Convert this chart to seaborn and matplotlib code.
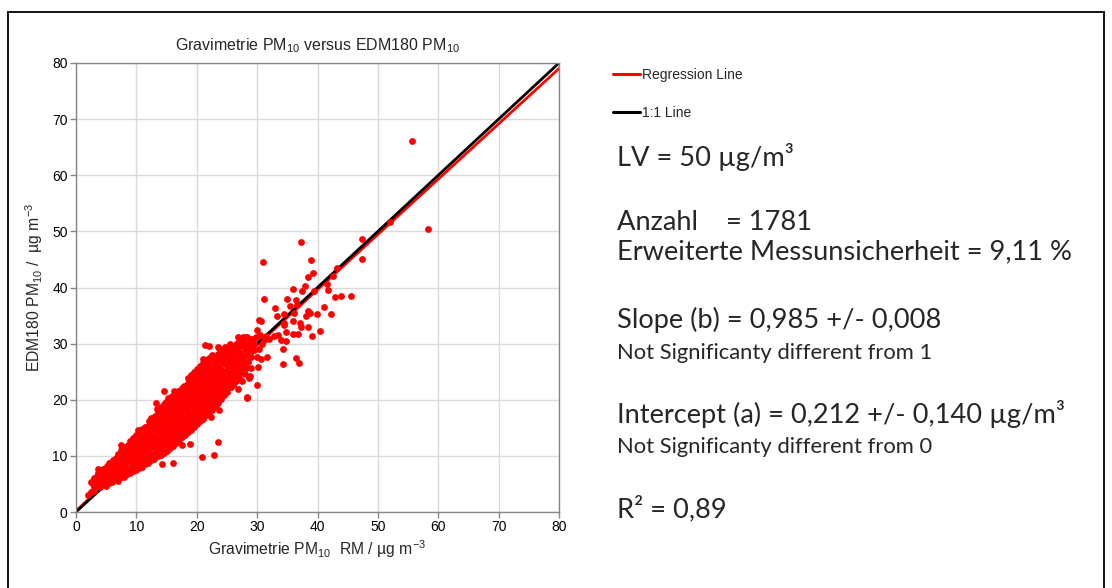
import matplotlib
matplotlib.use("Agg")
import matplotlib.pyplot as plt
import seaborn as sns
import pandas as pd
from matplotlib.patches import Rectangle
from matplotlib.lines import Line2D

# ---------------- data ----------------
pairs_0_10 = [
    (2.0, 3.0), (2.5, 3.6), (3.0, 3.8), (2.5, 5.4), (2.7, 5.1), (3.7, 7.6), (3.7, 6.9),
    (3.0, 4.4), (3.1, 5.3), (3.0, 6.0), (3.5, 4.7), (3.6, 5.6), (3.4, 6.4),
    (4.0, 4.4), (4.1, 5.3), (3.9, 6.2), (4.0, 7.1), (4.5, 4.9), (4.4, 5.8), (4.6, 6.8), (4.5, 7.6),
    (5.0, 4.6), (5.1, 5.5), (4.9, 6.4), (5.0, 7.3), (5.1, 8.2), (5.5, 5.1), (5.4, 6.0), (5.6, 6.9),
    (5.5, 7.8), (5.4, 8.7), (6.0, 5.3), (6.1, 6.3), (5.9, 7.3), (6.0, 8.3), (6.1, 9.2),
    (6.5, 5.8), (6.4, 6.8), (6.6, 7.8), (6.5, 8.8), (6.6, 9.7), (7.0, 5.6), (7.1, 6.5), (6.9, 7.4),
    (7.0, 8.4), (7.1, 9.4), (6.9, 10.4), (7.5, 6.2), (7.4, 7.1), (7.6, 8.1), (7.5, 9.0), (7.4, 10.0),
    (7.5, 11.0), (7.5, 11.9), (8.0, 6.3), (8.1, 7.4), (7.9, 8.5), (8.0, 9.5), (8.1, 10.5), (7.9, 11.5),
    (8.5, 6.8), (8.4, 7.9), (8.6, 9.0), (8.5, 10.0), (8.4, 11.0), (8.6, 12.0),
    (9.0, 6.9), (9.1, 7.9), (8.9, 8.9), (9.0, 9.9), (9.1, 10.9), (8.9, 11.9), (9.0, 12.7),
    (9.5, 7.3), (9.4, 8.4), (9.6, 9.4), (9.5, 10.4), (9.4, 11.4), (9.6, 12.4), (9.5, 13.2),
]

pairs_10_20 = [
    (10.0, 7.4), (10.1, 8.4), (9.9, 9.4), (10.0, 10.5), (10.1, 11.6), (9.9, 12.7), (10.0, 13.8), (10.2, 14.6),
    (10.5, 7.9), (10.4, 8.9), (10.6, 9.9), (10.5, 11.0), (10.4, 12.1), (10.6, 13.2), (10.5, 14.3),
    (11.0, 8.1), (11.1, 9.2), (10.9, 10.3), (11.0, 11.4), (11.1, 12.5), (10.9, 13.6), (11.0, 14.7),
    (11.5, 8.6), (11.4, 9.7), (11.6, 10.8), (11.5, 11.9), (11.4, 13.0), (11.6, 14.1), (11.5, 15.2),
    (12.0, 8.8), (12.1, 9.9), (11.9, 11.0), (12.0, 12.1), (12.1, 13.2), (11.9, 14.3), (12.0, 15.4), (12.1, 16.2),
    (12.5, 9.3), (12.4, 10.4), (12.6, 11.5), (12.5, 12.6), (12.4, 13.7), (12.6, 14.8), (12.5, 15.9), (12.4, 16.8),
    (13.0, 9.4), (13.1, 10.5), (12.9, 11.6), (13.0, 12.7), (13.1, 13.8), (12.9, 14.9), (13.0, 16.0), (13.1, 17.1),
    (13.2, 19.4), (13.5, 17.6), (13.5, 9.9), (13.4, 11.0), (13.6, 12.1), (13.5, 13.2), (13.4, 14.3),
    (13.6, 15.4), (13.5, 16.5), (13.4, 18.3),
    (14.0, 10.2), (14.1, 11.3), (13.9, 12.4), (14.0, 13.5), (14.1, 14.6), (13.9, 15.7), (14.0, 16.8),
    (14.1, 17.9), (14.0, 18.7), (14.3, 8.6), (14.6, 21.6),
    (14.5, 10.6), (14.4, 11.7), (14.6, 12.8), (14.5, 13.9), (14.4, 15.0), (14.6, 16.1), (14.5, 17.2),
    (14.4, 18.3), (14.6, 19.2), (15.0, 10.9), (15.1, 12.0), (14.9, 13.1), (15.0, 14.2), (15.1, 15.3),
    (14.9, 16.4), (15.0, 17.5), (15.1, 18.6), (14.9, 19.6), (15.2, 20.4),
    (15.5, 11.4), (15.4, 12.5), (15.6, 13.6), (15.5, 14.7), (15.4, 15.8), (15.6, 16.9), (15.5, 18.0),
    (15.4, 19.1), (15.6, 20.1), (16.0, 8.8), (16.3, 21.6),
    (16.0, 11.8), (16.1, 12.9), (15.9, 14.0), (16.0, 15.1), (16.1, 16.2), (15.9, 17.3), (16.0, 18.4),
    (16.1, 19.5), (15.9, 20.6), (16.5, 12.3), (16.4, 13.4), (16.6, 14.5), (16.5, 15.6), (16.4, 16.7),
    (16.6, 17.8), (16.5, 18.9), (16.4, 20.0), (16.6, 21.0),
    (17.0, 12.8), (17.1, 13.9), (16.9, 15.0), (17.0, 16.1), (17.1, 17.2), (16.9, 18.3), (17.0, 19.4),
    (17.1, 20.5), (16.9, 21.5), (17.5, 11.9), (17.5, 13.3), (17.4, 14.4), (17.6, 15.5), (17.5, 16.6),
    (17.4, 17.7), (17.6, 18.8), (17.5, 19.9), (17.4, 21.0), (17.6, 22.1),
    (18.0, 13.7), (18.1, 14.8), (17.9, 15.9), (18.0, 17.0), (18.1, 18.1), (17.9, 19.2), (18.0, 20.3),
    (18.1, 21.4), (17.9, 22.5), (18.5, 14.2), (18.4, 15.3), (18.6, 16.4), (18.5, 17.5), (18.4, 18.6),
    (18.6, 19.7), (18.5, 20.8), (18.4, 21.9), (18.6, 23.0), (18.5, 23.8), (18.9, 12.2),
    (19.0, 14.6), (19.1, 15.7), (18.9, 16.8), (19.0, 17.9), (19.1, 19.0), (18.9, 20.1), (19.0, 21.2),
    (19.1, 22.3), (18.9, 23.4), (19.0, 24.4), (19.5, 15.1), (19.4, 16.2), (19.6, 17.3), (19.5, 18.4),
    (19.4, 19.5), (19.6, 20.6), (19.5, 21.7), (19.4, 22.8), (19.6, 23.9), (19.5, 25.0),
]

pairs_20_30 = [
    (20.0, 15.6), (20.1, 16.7), (19.9, 17.8), (20.0, 18.9), (20.1, 20.0), (19.9, 21.1), (20.0, 22.2),
    (20.1, 23.3), (19.9, 24.4), (20.0, 25.5), (20.9, 9.8), (21.3, 29.8),
    (20.5, 16.2), (20.4, 17.3), (20.6, 18.4), (20.5, 19.5), (20.4, 20.6), (20.6, 21.7), (20.5, 22.8),
    (20.4, 23.9), (20.6, 25.0), (20.5, 26.1), (21.0, 16.6), (21.1, 17.7), (20.9, 18.8), (21.0, 19.9),
    (21.1, 21.0), (20.9, 22.1), (21.0, 23.2), (21.1, 24.3), (20.9, 25.4), (21.0, 26.5), (21.1, 27.3),
    (21.5, 17.2), (21.4, 18.3), (21.6, 19.4), (21.5, 20.5), (21.4, 21.6), (21.6, 22.7), (21.5, 23.8),
    (21.4, 24.9), (21.6, 26.0), (21.5, 27.0), (22.0, 17.6), (22.1, 18.7), (21.9, 19.8), (22.0, 20.9),
    (22.1, 22.0), (21.9, 23.1), (22.0, 24.2), (22.1, 25.3), (21.9, 26.4), (22.0, 27.4), (22.1, 29.5),
    (22.8, 10.2), (22.4, 16.9), (22.5, 18.2), (22.4, 19.3), (22.6, 20.4), (22.5, 21.5), (22.4, 22.6),
    (22.6, 23.7), (22.5, 24.8), (22.4, 25.9), (22.6, 27.0), (22.5, 28.0),
    (23.0, 18.8), (23.1, 19.9), (22.9, 21.0), (23.0, 22.1), (23.1, 23.2), (22.9, 24.3), (23.0, 25.4),
    (23.1, 26.5), (22.9, 27.6), (23.6, 12.5), (23.7, 18.2), (23.6, 29.4), (23.7, 29.2),
    (23.5, 19.5), (23.4, 20.6), (23.6, 21.7), (23.5, 22.8), (23.4, 23.9), (23.6, 25.0), (23.5, 26.1),
    (23.4, 27.2), (23.6, 28.2), (24.0, 20.1), (24.1, 21.2), (23.9, 22.3), (24.0, 23.4), (24.1, 24.5),
    (23.9, 25.6), (24.0, 26.7), (24.1, 27.8), (24.0, 28.8),
    (24.5, 20.8), (24.4, 21.9), (24.6, 23.0), (24.5, 24.1), (24.4, 25.2), (24.6, 26.3), (24.5, 27.4),
    (24.4, 28.5), (24.6, 29.4), (25.0, 21.3), (25.1, 22.4), (24.9, 23.5), (25.0, 24.6), (25.1, 25.7),
    (24.9, 26.8), (25.0, 27.9), (25.1, 28.9), (25.6, 22.2), (25.6, 29.3),
    (25.5, 23.1), (25.4, 24.2), (25.6, 25.3), (25.5, 26.4), (25.4, 27.5), (25.6, 28.6), (25.5, 30.0),
    (26.0, 22.6), (26.1, 23.7), (25.9, 24.8), (26.0, 25.9), (26.1, 27.0), (25.9, 28.1), (26.0, 29.2),
    (26.5, 23.4), (26.4, 24.5), (26.6, 25.6), (26.5, 26.7), (26.4, 27.8), (26.6, 28.9), (26.5, 29.9),
    (26.9, 22.0), (26.8, 31.1), (27.0, 24.1), (27.1, 25.2), (26.9, 26.3), (27.0, 27.4), (27.1, 28.5),
    (26.9, 29.6), (27.0, 30.5), (27.6, 29.5), (27.6, 31.2),
    (27.5, 23.3), (27.4, 25.0), (27.6, 26.1), (27.5, 27.2), (27.4, 28.3), (27.6, 30.4),
    (28.0, 24.5), (28.1, 25.7), (27.9, 26.8), (28.0, 27.9), (28.1, 29.0), (27.9, 30.1), (28.2, 31.1),
    (28.3, 20.5), (28.4, 20.4), (28.7, 23.8), (28.4, 31.2), (28.9, 24.2), (28.9, 30.0),
    (28.5, 26.7), (28.4, 27.8), (28.6, 28.9), (28.5, 30.0), (29.0, 25.6), (29.0, 27.6), (29.1, 28.7),
    (28.9, 29.8), (29.0, 30.9), (29.5, 28.8), (29.4, 29.9), (29.6, 31.0), (29.8, 31.1),
]

pairs_30_60 = [
    (30.9, 44.5), (37.2, 48.1), (38.9, 44.9), (47.4, 48.6), (47.4, 45.0), (39.2, 42.5), (38.4, 41.8),
    (43.3, 43.4), (42.6, 42.0), (37.9, 40.3), (36.0, 39.7), (37.4, 39.4), (39.5, 39.4), (41.8, 39.5),
    (41.5, 40.7), (42.9, 38.3), (43.9, 38.4), (45.5, 38.4), (31.2, 37.9), (34.9, 37.9), (36.4, 37.7),
    (32.9, 36.4), (35.4, 36.7), (36.6, 36.9), (41.1, 36.6), (38.4, 35.9), (38.1, 34.9), (38.7, 35.4),
    (39.9, 35.3), (42.3, 35.2), (33.3, 35.0), (34.5, 35.3), (36.1, 35.4), (36.0, 34.1), (34.4, 33.6),
    (37.1, 33.7), (30.3, 34.2), (30.6, 34.1), (30.0, 32.4), (34.5, 33.3), (38.5, 32.9), (37.2, 32.9),
    (40.4, 32.2), (35.9, 31.8), (36.8, 31.8), (39.1, 31.3), (34.8, 32.1), (32.8, 31.3), (33.5, 31.5),
    (31.4, 31.4), (31.2, 30.7), (31.9, 30.8), (34.0, 30.7), (34.7, 30.4), (30.8, 30.0), (34.3, 29.0),
    (36.4, 27.5), (37.0, 26.6), (34.3, 26.3), (31.7, 27.7), (30.6, 27.2), (30.0, 27.7), (30.2, 25.8),
    (30.0, 22.6), (30.3, 29.1), (30.5, 31.6), (52.0, 51.6), (55.7, 66.1), (58.3, 50.4),
]

reg_slope = 0.985
reg_intercept = 0.212
line_x = [0, 80]

axis_ticks = [0, 10, 20, 30, 40, 50, 60, 70, 80]

stats_big = [
    ("LV = 50 µg/m³", 157),
    ("Anzahl    = 1781", 223),
    ("Erweiterte Messunsicherheit = 9,11 %", 252),
    ("Slope (b) = 0,985 +/- 0,008", 320),
    ("Intercept (a) = 0,212 +/- 0,140 µg/m³", 414),
    ("R² = 0,89", 509),
]
stats_small = [
    ("Not Significanty different from 1", 353),
    ("Not Significanty different from 0", 447),
]

# ---------------- build ----------------
all_pairs = pairs_0_10 + pairs_10_20 + pairs_20_30 + pairs_30_60
df = pd.DataFrame(all_pairs, columns=["grav", "edm"])
lines_df = pd.DataFrame({
    "x": line_x + line_x,
    "y": [reg_intercept + reg_slope * v for v in line_x] + list(line_x),
    "kind": ["Regression Line"] * 2 + ["1:1 Line"] * 2,
})

sns.set_theme(style="white")
plt.rcParams["font.family"] = ["Liberation Sans", "DejaVu Sans"]
plt.rcParams["mathtext.fontset"] = "custom"
plt.rcParams["mathtext.rm"] = "Liberation Sans"
plt.rcParams["mathtext.it"] = "Liberation Sans:italic"
plt.rcParams["mathtext.bf"] = "Liberation Sans:bold"
plt.rcParams["mathtext.default"] = "regular"

W, H = 1112, 588
fig = plt.figure(figsize=(W / 100, H / 100), dpi=100)
ax = fig.add_axes([76 / W, 1 - 512 / H, (559 - 76) / W, (512 - 63) / H])

sns.lineplot(data=lines_df, x="x", y="y", hue="kind", ax=ax,
             palette={"Regression Line": "#ff0000", "1:1 Line": "#000000"},
             hue_order=["Regression Line", "1:1 Line"],
             linewidth=2.0, zorder=2, legend=False, estimator=None, sort=False)
sns.scatterplot(data=df, x="grav", y="edm", ax=ax, color="#ff0000", s=24,
                linewidth=0, zorder=3, legend=False)

ax.set_xlim(0, 80)
ax.set_ylim(0, 80)
ax.set_xticks(axis_ticks)
ax.set_yticks(axis_ticks)
ax.grid(True, color="#d9d9d9", linewidth=1.0)
ax.set_axisbelow(True)
for sp in ax.spines.values():
    sp.set_color("#868686")
    sp.set_linewidth(1.0)
ax.tick_params(axis="both", which="both", direction="out", length=4, width=1,
               color="#868686", labelsize=10, labelcolor="#000000", pad=2,
               left=True, bottom=True)

ax.set_xlabel("Gravimetrie PM$_{10}$  RM / µg m$^{-3}$", fontsize=11.3, labelpad=3)
ax.set_ylabel("EDM180 PM$_{10}$ /  µg m$^{-3}$", fontsize=11.3, labelpad=5)
ax.set_title("Gravimetrie PM$_{10}$ versus EDM180 PM$_{10}$", fontsize=11.5, pad=9)

# legend outside
handles = [Line2D([0], [0], color="#ff0000", lw=2.2), Line2D([0], [0], color="#000000", lw=2.2)]
fig.legend(handles, ["Regression Line", "1:1 Line"], loc="upper left",
           bbox_to_anchor=(600 / W, 1 - 55 / H), frameon=False, fontsize=10,
           handlelength=2.0, handletextpad=0.15, labelspacing=1.73)

# statistics text
for txt, yc in stats_big:
    fig.text(617 / W, 1 - yc / H, txt, fontsize=19.6, family="Lato", va="center", ha="left")
for txt, yc in stats_small:
    fig.text(617 / W, 1 - yc / H, txt, fontsize=15.8, family="Lato", va="center", ha="left")

# outer frame
fig.add_artist(Rectangle((8 / W, -0.05), (1104 - 8) / W, 1 - 12 / H + 0.05,
                         transform=fig.transFigure, fill=False, edgecolor="black",
                         linewidth=1.3))

fig.savefig("out.png", dpi=100)
